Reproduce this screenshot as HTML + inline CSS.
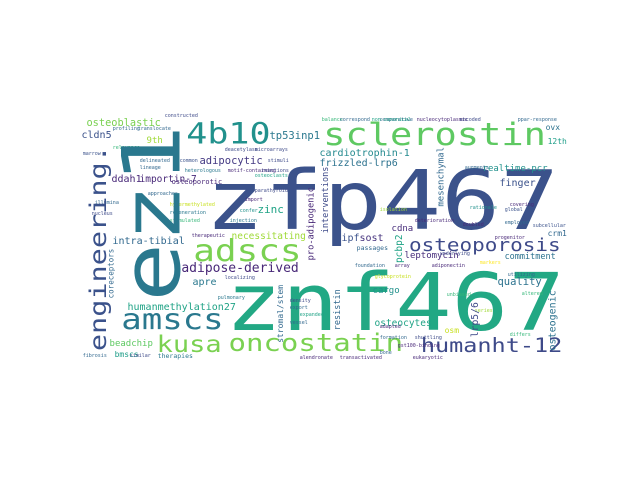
<!DOCTYPE html>
<html><head><meta charset="utf-8"><style>
html,body{margin:0;padding:0;background:#fff;}
#cloud{position:relative;width:640px;height:480px;overflow:hidden;background:#fff;font-family:"DejaVu Sans Mono","Liberation Mono",monospace;}
#cloud span{position:absolute;line-height:1;white-space:pre;}
</style></head><body>
<div id="cloud"></div>
<script>
// horizontal words: text, glyph-left x, baseline y, size, color
const hWords = [
["zfp467",210,230,98,"#3b528b"],
["znf467",230,332,94,"#22a884"],
["sclerostin",325,145,37,"#5ec962"],
["4b10",188,145,35,"#21918c"],
["adscs",195,262,36,"#7ad151"],
["amscs",123,330,34,"#2a788e"],
["kusa",158,353,27,"#7ad151"],
["oncostatin",230,352,29,"#7ad151"],
["humanht-12",422,353,23.5,"#3e4a89"],
["osteoporosis",410,252,21,"#3e4a89"],
["cardiotrophin-1",320,157,10,"#23898e"],
["frizzled-lrp6",320,167,10,"#2c728e"],
["tp53inp1",270,140,10.5,"#2a788e"],
["adipocytic",200,165,10.5,"#443983"],
["realtime-pcr",483,173,9,"#21918c"],
["finger",500,187,10,"#3b528b"],
["zinc",258,213,11,"#20a386"],
["osteoporotic",172,185,7,"#482878"],
["necessitating",232,240,9.5,"#a0da39"],
["cdna",392,233,9,"#472d7b"],
["ipf",342,242,10,"#3b528b"],
["sost",360,242,10,"#46337e"],
["leptomycin",405,260,9,"#472d7b"],
["commitment",505,260,8.5,"#2c728e"],
["passages",357,250,6.5,"#31688e"],
["apre",193,286,10,"#2a788e"],
["quality",498,286,10.5,"#2c728e"],
["cargo",373,295,9,"#21918c"],
["osteocytes",375,327,9.5,"#20a386"],
["osm",445,334,8,"#c8e020"],
["humanmethylation27",128,311,10,"#20a386"],
["intra-tibial",113,245,10,"#31688e"],
["beadchip",110,348,9,"#5ec962"],
["bmscs",115,358,8,"#1f9e89"],
["therapies",158,358,6.5,"#2a788e"],
["osteoblastic",87,127,10.3,"#7ad151"],
["cldn5",82,139,10,"#3b528b"],
["9th",147,145,9,"#a0da39"],
["ddah1",112,183,10,"#482878"],
["importin-7",140,183,9.5,"#482878"],
["adipose-derived",182,273,13,"#482878"],
["12th",548,145,8,"#1f9e89"],
["ovx",546,131,8,"#2c728e"],
["crm1",548,237,8,"#31688e"],
["constructed",165,118,5,"#3e4a89"],["profiling",113,131,5,"#31688e"],["translocate",138,131,5,"#31688e"],
["relevance",113,150,5,"#35b779"],["marrow",83,156,5,"#3b528b"],["delineated",140,163,5,"#31688e"],
["lineage",140,170,5,"#31688e"],["common",180,163,5,"#3b528b"],["heterologous",185,173,5,"#2a788e"],
["deacetylase",225,152,5,"#3e4a89"],["microarrays",255,152,5,"#3e4a89"],["stimuli",268,163,5,"#3e4a89"],
["motif-containing",228,173,5,"#482878"],["reactions",262,173,5,"#3e4a89"],["approaches",148,196,5,"#31688e"],
["hypermethylated",170,207,5,"#c8e020"],["regeneration",170,215,5,"#2a788e"],["stimulated",170,223,5,"#35b779"],
["injection",230,223,5,"#2a788e"],["parathyroid",255,193,5,"#3e4a89"],["import",245,202,5,"#482878"],
["confer",240,213,5,"#21918c"],["osteoclasts",255,178,5,"#20a386"],["therapeutic",192,238,5,"#482878"],
["pulmonary",218,300,5,"#2a788e"],["localizing",225,280,5,"#3e4a89"],["density",290,303,5,"#3e4a89"],
["export",290,310,5,"#31688e"],["expanded",300,317,5,"#20a386"],["vessel",290,325,5,"#31688e"],
["comparative",380,122,5,"#31688e"],["balance",322,122,5,"#35b779"],["correspond",340,122,5,"#31688e"],
["non-canonical",372,122,5,"#20a386"],["nucleocytoplasmic",417,122,5,"#482878"],["encoded",460,122,5,"#3e4a89"],
["ppar-response",518,122,5,"#31688e"],["isolation",380,212,5,"#a0da39"],["augments",465,170,5,"#31688e"],
["covering",510,207,5,"#482878"],["rationale",470,210,5,"#21918c"],["global",505,212,5,"#3b528b"],
["doubled",463,227,5,"#482878"],["employed",505,225,5,"#31688e"],["deterioration",415,223,5,"#482878"],
["subcellular",533,228,5,"#3b528b"],["utilizing",508,277,5,"#31688e"],["altered",522,296,5,"#35b779"],
["series",475,313,5,"#a0da39"],["differs",510,337,5,"#35b779"],["formation",380,340,5,"#31688e"],
["shuttling",415,340,5,"#3e4a89"],["gst100-binding",398,348,5,"#482878"],["bone",380,355,5,"#31688e"],
["adapted",380,329,5,"#482878"],["foundation",355,268,5,"#31688e"],["array",395,268,5,"#482878"],
["adiponectin",432,268,5,"#482878"],["underlying",440,256,5,"#3e4a89"],["markers",480,265,5,"#fde725"],
["progenitor",495,240,5,"#482878"],["unbiased",447,297,5,"#35b779"],["glycoprotein",375,279,5,"#c8e020"],
["alendronate",300,360,5,"#482878"],["transactivated",340,360,5,"#482878"],["eukaryotic",413,360,5,"#482878"],
["fibrosis",83,358,5,"#31688e"],["similar",130,358,5,"#3e4a89"],["illumina",95,205,5,"#31688e"],
["nucleus",92,216,5,"#3e4a89"]
];
// vertical words (rotated, reading bottom-to-top): text, baseline x, start y, size, color
const vWords = [
["ez1",180,302,98,"#2a788e"],
["engineering.",107,351,28.5,"#3b528b"],
["coreceptors",114,298,7.5,"#31688e"],
["mesenchymal",445,207,9,"#31688e"],
["interventions",329,233,8.5,"#3e4a89"],
["pro-adipogenic",315,260,8.7,"#482878"],
["pcbp2",403,263,9.5,"#20a386"],
["stromal/stem",284,343,8,"#31688e"],
["resistin",341,330,8.5,"#31688e"],
["lrp5/6",479,337,9.7,"#3e4a89"],
["osteogenic",557,350,10,"#2c728e"]
];
const cloud = document.getElementById('cloud');
hWords.forEach(w => {
  const s = document.createElement('span');
  s.textContent = w[0];
  
  
  s.style.left = (w[1] - 0.05*w[3]) + 'px';
  s.style.top = (w[2] - 0.846*w[3]) + 'px';
  s.style.fontSize = w[3] + 'px';
  s.style.color = w[4];
  if (w[3] > 20) {
    s.style.transformOrigin = '0 ' + (0.846*w[3]) + 'px';
    s.style.transform = 'scaleY(0.84)';
  }
  cloud.appendChild(s);
});
vWords.forEach(w => {
  const s = document.createElement('span');
  s.textContent = w[0];
  
  
  s.style.left = w[1] + 'px';
  s.style.top = (w[2] - 0.846*w[3]) + 'px';
  s.style.fontSize = w[3] + 'px';
  s.style.color = w[4];
  s.style.transformOrigin = '0 ' + (0.846*w[3]) + 'px';
  s.style.transform = 'rotate(-90deg)' + (w[3] > 20 ? ' scaleY(0.82)' : '');
  cloud.appendChild(s);
});
</script>
</body></html>
